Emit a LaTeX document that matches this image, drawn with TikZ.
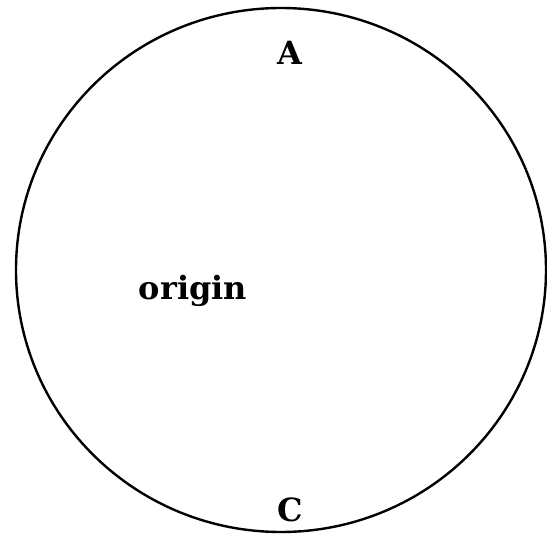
\documentclass[tikz,border=0pt]{standalone}
\usepackage{fontspec}
\setmainfont{DejaVu Serif}
\tikzset{lbl/.style={font=\fontsize{32}{36}\selectfont\bfseries, inner sep=0pt, anchor=base}}
\begin{document}
\begin{tikzpicture}[x=1pt,y=1pt]
\useasboundingbox (0,0) rectangle (547,539);
\draw[line width=2.4pt] (281,269) ellipse [x radius=265, y radius=262];
\node[lbl] (A) at (290,{539-65}) {A};
\node[lbl] (origin) at (193,{539-300}) {origin};
\node[lbl] (C) at (290,{539-521}) {C};
\end{tikzpicture}
\end{document}
